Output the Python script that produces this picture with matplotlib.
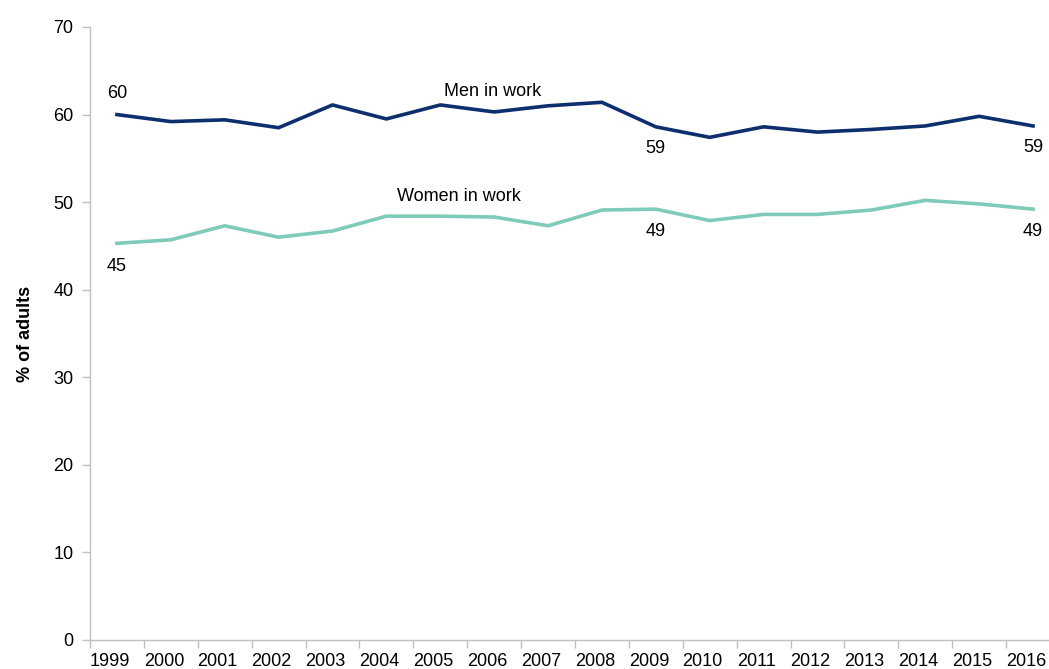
import matplotlib
matplotlib.use("Agg")
import matplotlib.pyplot as plt
import matplotlib.transforms as mtransforms
import numpy as np

plt.rcParams['font.family'] = ['Liberation Sans', 'DejaVu Sans']

years = [str(y) for y in range(1999, 2017)]
men = [60.0, 59.2, 59.4, 58.5, 61.1, 59.5, 61.1, 60.3, 61.0, 61.4,
       58.6, 57.4, 58.6, 58.0, 58.3, 58.7, 59.8, 58.7]
women = [45.3, 45.7, 47.3, 46.0, 46.7, 48.4, 48.4, 48.3, 47.3, 49.1,
         49.2, 47.9, 48.6, 48.6, 49.1, 50.2, 49.8, 49.2]

men_color = '#0d2f6e'
women_color = '#7fcbb9'
axis_grey = '#bfbfbf'

fig = plt.figure(figsize=(10.49, 6.69), dpi=100)
ax = fig.add_axes([90 / 1049, 29 / 669, 970 / 1049, 613 / 669])

x = np.arange(len(years))
ax.plot(x, men, color=men_color, lw=2.6, solid_joinstyle='miter')
ax.plot(x, women, color=women_color, lw=2.6, solid_joinstyle='miter')

ax.set_xlim(-0.5, len(years) - 0.5)
ax.set_ylim(0, 70)
ax.set_yticks(range(0, 71, 10))

# year labels sit between the tick marks, like a category axis
ax.set_xticks(x)
ax.set_xticklabels(years)
ax.tick_params(axis='x', which='major', length=0, pad=9, labelsize=13)
ax.set_xticks(np.arange(-0.5, len(years), 1), minor=True)
ax.tick_params(axis='x', which='minor', length=6, color=axis_grey, width=1)
ax.tick_params(axis='y', length=6, color=axis_grey, width=1, labelsize=13, pad=6)

shift = mtransforms.ScaledTranslation(-7 / 100, 0, fig.dpi_scale_trans)
for lab in ax.get_xticklabels():
    lab.set_transform(lab.get_transform() + shift)

for side in ['top', 'right']:
    ax.spines[side].set_visible(False)
for side in ['left', 'bottom']:
    ax.spines[side].set_color(axis_grey)
    ax.spines[side].set_linewidth(1)

ax.set_ylabel('% of adults', fontsize=13, fontweight='bold', labelpad=14)

# value labels
lbl = dict(fontsize=13, ha='center', va='center', textcoords='offset points')
ax.annotate(f'{men[0]:.0f}', (0, men[0]), xytext=(0, 15), **lbl)
ax.annotate(f'{women[0]:.0f}', (0, women[0]), xytext=(0, -17), **lbl)
for i in (10, 17):
    ax.annotate(f'{men[i]:.0f}', (i, men[i]), xytext=(0, -15.5), **lbl)
    ax.annotate(f'{women[i]:.0f}', (i, women[i]), xytext=(0, -16), **lbl)

ax.text(6.98, 62.6, 'Men in work', fontsize=13, ha='center', va='center')
ax.text(6.35, 50.6, 'Women in work', fontsize=13, ha='center', va='center')

fig.savefig('out.png', dpi=100)
